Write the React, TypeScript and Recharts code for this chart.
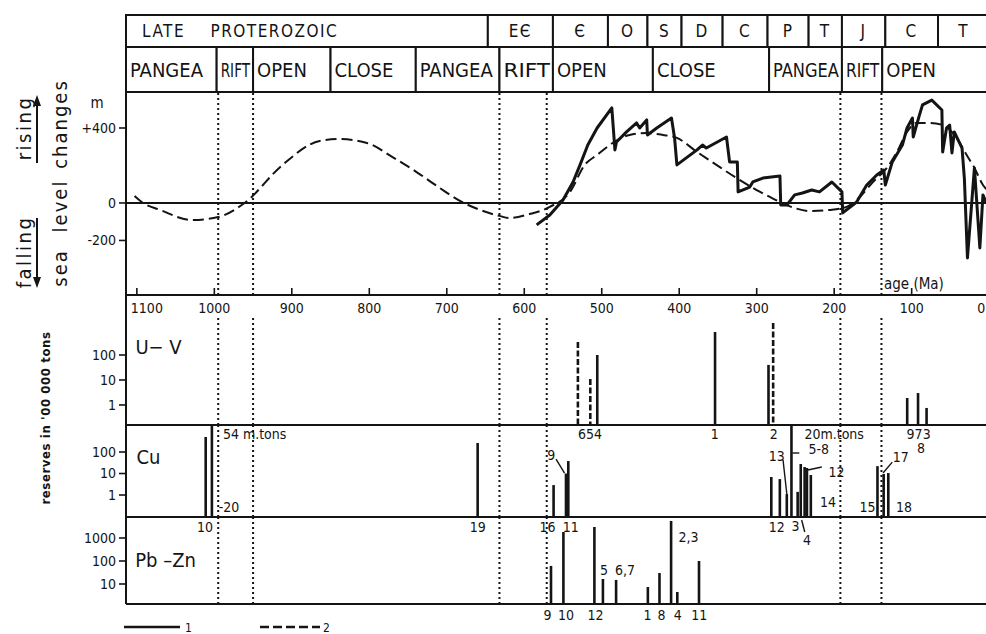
import React from 'react';
import { ComposedChart, Line, Bar, XAxis, YAxis, ReferenceLine, ReferenceArea, ReferenceDot } from 'recharts';

const FONT = "'DejaVu Sans Condensed', 'DejaVu Sans', sans-serif";
const INK = '#141414';

// shared age axis (Ma)
const ageDomain = [-14, 1114];
const ageTicks = [1100, 1000, 900, 800, 700, 600, 500, 400, 300, 200, 100, 0];
const boundaryAges = [995, 950, 632, 571, 192, 139];

// header rows
const periodNames = ['LATE    PROTEROZOIC', 'EЄ', 'Є', 'O', 'S', 'D', 'C', 'P', 'T', 'J', 'C', 'T'];
const periodBounds = [1114, 647, 563, 492, 441, 397, 344, 286, 233, 190, 134, 66, 0];
const phaseNames = ['PANGEA', 'RIFT', 'OPEN', 'CLOSE', 'PANGEA', 'RIFT', 'OPEN', 'CLOSE', 'PANGEA', 'RIFT', 'OPEN'];
const phaseBounds = [1114, 997, 950, 850, 740, 632, 563, 434, 284, 190, 138, -14];

// sea level curve 1 (solid)
const curve1Ages = [584, 567, 550, 537, 528, 518, 506, 487, 483, 481, 468, 455, 451, 442, 441, 429, 410, 406, 403, 377, 370, 365, 339, 335, 325, 324, 309, 305, 292, 270, 269, 261, 251, 241, 229, 219, 203, 190, 189, 171, 158, 145, 136, 134, 125, 112, 106, 99, 98, 90, 86, 74, 61, 60, 55, 51, 48, 45, 35, 32, 28, 21, 19, 12, 8, 4, 0];
const curve1Levels = [-117, -64, 16, 112, 203, 309, 400, 507, 283, 325, 379, 427, 400, 443, 363, 400, 453, 347, 203, 283, 309, 293, 352, 219, 219, 59, 85, 112, 133, 144, -11, -11, 43, 53, 69, 59, 112, 59, -53, 5, 96, 149, 176, 96, 219, 309, 400, 453, 352, 469, 523, 549, 496, 272, 400, 416, 267, 379, 293, 133, -293, 80, 187, -240, 43, 5, 40];

// sea level curve 2 (dashed)
const curve2Ages = [1103, 1092, 1070, 1029, 995, 961, 912, 864, 838, 803, 770, 739, 709, 683, 657, 632, 619, 593, 567, 541, 522, 506, 486, 464, 442, 421, 403, 377, 352, 326, 300, 283, 270, 251, 232, 206, 184, 167, 150, 132, 119, 106, 94, 77, 60, 42, 29, 19, 8, 0];
const curve2Levels = [37, 0, -37, -91, -75, 0, 203, 331, 341, 320, 245, 165, 80, 11, -37, -69, -80, -59, -21, 59, 203, 256, 320, 363, 373, 363, 347, 272, 203, 133, 69, 32, 5, -27, -43, -37, -21, 32, 112, 187, 272, 379, 427, 427, 416, 347, 256, 187, 96, 60];
const levelTicks = [400, 0, -200];

// U-V deposits
const uvAges = [531, 515, 506, 354, 285, 279, 106, 92, 81];
const uvReserves = [330, 11, 100, 830, 40, 1900, 1.9, 3, 0.76];
const uvSource = [2, 2, 1, 1, 1, 2, 1, 1, 1];

// Cu deposits
const cuAges = [1011, 1003, 660, 562, 546, 543, 281, 270, 261, 255, 247, 243, 238, 235, 230, 144, 136, 130];
const cuReserves = [500, 1800, 262, 2.9, 10, 38, 6.9, 5.5, 1.1, 1800, 1.4, 27.7, 20, 18, 8.5, 22, 9.5, 10.5];

// Pb-Zn deposits
const pbAges = [566, 550, 510, 499, 482, 441, 426, 411, 403, 375];
const pbReserves = [61, 1820, 3000, 16.5, 15, 7.4, 30, 5500, 4.5, 100];

// annotations
const cuNoteTexts = ['54 m.tons', '-20', '10', '19', '16', '11', '9', '654', '1', '2', '20m.tons', '973', '8', '13', '5-8', '12', '14', '12', '3', '4', '15', '17', '18'];
const cuNoteAges = [948, 981, 1012, 660, 570, 540, 565, 515, 354, 278, 200, 91, 88, 274, 220, 197, 208, 274, 250, 235, 157, 114, 110];
const cuNoteLevels = [690, 0.28, 0.032, 0.032, 0.032, 0.032, 72, 690, 690, 690, 690, 690, 153, 65, 138, 11.7, 0.47, 0.032, 0.036, 0.0081, 0.28, 58, 0.28];
const cuLeaderAges = [[559, 548], [266, 261], [254, 245], [234, 216], [242, 238], [137, 125]];
const cuLeaderLevels = [[47, 10.5], [42.5, 1.0], [90, 90], [14.5, 20], [0.069, 0.019], [10.6, 34]];

const pbNoteTexts = ['9', '10', '12', '1', '8', '4', '11', '5', '6,7', '2,3'];
const pbNoteAges = [570, 546, 508, 441, 423, 402, 374, 497, 470, 388];
const pbNoteLevels = [0.45, 0.45, 0.45, 0.45, 0.45, 0.45, 0.45, 40, 40, 1100];

const CellLabel = (props: any) => {
  const { viewBox, text, align, size, spacing, pad } = props;
  if (!viewBox) return null;
  const { x, y, width, height } = viewBox;
  const est = text.length * size * 0.62 + text.length * spacing;
  const room = width - pad - 3;
  const fit = align === 'start' && est > room;
  return (
    <text
      x={align === 'start' ? x + pad : x + width / 2}
      y={y + height / 2}
      dy="0.36em"
      textAnchor={align}
      fontSize={size}
      fontFamily={FONT}
      fill={INK}
      letterSpacing={spacing}
      style={{ whiteSpace: 'pre' }}
      textLength={fit ? room : undefined}
      lengthAdjust={fit ? 'spacingAndGlyphs' : undefined}
    >
      {text}
    </text>
  );
};

const NoteText = (props: any) => {
  const { viewBox, text, size } = props;
  if (!viewBox) return null;
  return (
    <text
      x={viewBox.x + viewBox.width / 2}
      y={viewBox.y + viewBox.height / 2}
      dy="0.36em"
      textAnchor="middle"
      fontSize={size || 14}
      fontFamily={FONT}
      fill={INK}
    >
      {text}
    </text>
  );
};

const Stick = (props: any) => {
  const { x, y, width, height, payload } = props;
  if (x == null || y == null) return null;
  const cx = x + width / 2;
  return (
    <line
      x1={cx}
      x2={cx}
      y1={y}
      y2={y + height}
      stroke={INK}
      strokeWidth={2.6}
      strokeDasharray={payload && payload.source === 2 ? '6 2.5' : undefined}
    />
  );
};

const AgeTick = (props: any) => {
  const { x, y, payload } = props;
  const first = payload.value === ageTicks[0];
  const last = payload.value === ageTicks[ageTicks.length - 1];
  const anchor = first ? 'start' : last ? 'end' : 'middle';
  const tx = first ? x - 6 : last ? x - 4 : x;
  return (
    <g>
      <line x1={x} x2={x} y1={y} y2={y - 7} stroke={INK} strokeWidth={1.6} />
      <text x={tx} y={y + 18} textAnchor={anchor} fontSize={14} fontFamily={FONT} fill={INK}>
        {payload.value}
      </text>
    </g>
  );
};

const axisStyle = {
  axisLine: { stroke: INK, strokeWidth: 2 },
  tickLine: { stroke: INK, strokeWidth: 1.6 },
  tickSize: 7,
  tickMargin: 3,
  tick: { fill: INK, fontSize: 14, fontFamily: FONT },
};

function StickPanel(props: any) {
  const { top, plotHeight, bottomRoom, domain, ticks, rows, name, nameAge, nameLevel, notes, leaders, dotFrom } = props;
  return (
    <div style={{ position: 'absolute', left: 0, top: top - 10 }}>
      <ComposedChart width={1000} height={10 + plotHeight + bottomRoom} data={rows} margin={{ top: 10, right: 0, bottom: bottomRoom, left: 66 }}>
        <XAxis type="number" dataKey="age" domain={ageDomain} reversed hide allowDataOverflow />
        <YAxis type="number" scale="log" domain={domain} ticks={ticks} interval={0} allowDataOverflow width={60} {...axisStyle} />
        <ReferenceLine y={domain[0]} stroke={INK} strokeWidth={2} />
        {boundaryAges.map((a) => (
          <ReferenceLine
            key={a}
            segment={[{ x: a, y: dotFrom ?? domain[1] }, { x: a, y: domain[0] }]}
            stroke={INK}
            strokeWidth={2}
            strokeDasharray="2 3"
          />
        ))}
        <Bar dataKey="reserve" barSize={3} shape={Stick} isAnimationActive={false} />
        {(notes || []).map((n: any, i: number) => (
          <ReferenceDot key={`n${i}`} x={n.age} y={n.level} r={0} fill="none" stroke="none" ifOverflow="visible" label={<NoteText text={n.text} />} />
        ))}
        {(leaders || []).map((l: any, i: number) => (
          <ReferenceLine key={`l${i}`} segment={[{ x: l.ages[0], y: l.levels[0] }, { x: l.ages[1], y: l.levels[1] }]} stroke={INK} strokeWidth={1.4} ifOverflow="visible" />
        ))}
        <ReferenceDot x={nameAge} y={nameLevel} r={0} fill="none" stroke="none" ifOverflow="visible" label={<NoteText text={name} size={20} />} />
      </ComposedChart>
    </div>
  );
}

export default function App() {
  const curve1 = curve1Ages.map((age, i) => ({ age, level: curve1Levels[i] }));
  const curve2 = curve2Ages.map((age, i) => ({ age, level: curve2Levels[i] }));
  const uvRows = uvAges.map((age, i) => ({ age, reserve: uvReserves[i], source: uvSource[i] }));
  const cuRows = cuAges.map((age, i) => ({ age, reserve: cuReserves[i], source: 1 }));
  const pbRows = pbAges.map((age, i) => ({ age, reserve: pbReserves[i], source: 1 }));
  const cuNotes = cuNoteTexts.map((text, i) => ({ text, age: cuNoteAges[i], level: cuNoteLevels[i] }));
  const cuLeaders = cuLeaderAges.map((ages, i) => ({ ages, levels: cuLeaderLevels[i] }));
  const pbNotes = pbNoteTexts.map((text, i) => ({ text, age: pbNoteAges[i], level: pbNoteLevels[i] }));

  return (
    <div style={{ position: 'absolute', left: 0, top: 0, width: 986, height: 634, overflow: 'hidden', background: '#fff' }}>
      {/* header: periods and plate phases */}
      <div style={{ position: 'absolute', left: 0, top: 0 }}>
        <ComposedChart width={1000} height={100} margin={{ top: 15, right: 0, bottom: 8, left: 126 }}>
          <XAxis type="number" dataKey="age" domain={ageDomain} reversed hide allowDataOverflow />
          <YAxis type="number" domain={[0, 77]} hide allowDataOverflow />
          {periodNames.map((name, i) => (
            <ReferenceArea
              key={`p${i}`}
              x1={periodBounds[i]}
              x2={periodBounds[i + 1]}
              y1={45}
              y2={77}
              fill="#fff"
              fillOpacity={1}
              stroke={INK}
              strokeWidth={2}
              ifOverflow="visible"
              label={<CellLabel text={name} align={i === 0 ? 'start' : 'middle'} size={17} spacing={1.5} pad={16} />}
            />
          ))}
          {phaseNames.map((name, i) => (
            <ReferenceArea
              key={`f${i}`}
              x1={phaseBounds[i]}
              x2={phaseBounds[i + 1]}
              y1={0}
              y2={45}
              fill="#fff"
              fillOpacity={1}
              stroke={INK}
              strokeWidth={2}
              ifOverflow="visible"
              label={<CellLabel text={name} align="start" size={20} spacing={0} pad={4} />}
            />
          ))}
        </ComposedChart>
      </div>

      {/* sea level changes */}
      <div style={{ position: 'absolute', left: 0, top: 80 }}>
        <ComposedChart width={1000} height={237} margin={{ top: 12, right: 0, bottom: 0, left: 66 }}>
          <XAxis
            type="number"
            dataKey="age"
            domain={ageDomain}
            reversed
            allowDataOverflow
            ticks={ageTicks}
            interval={0}
            height={22}
            axisLine={{ stroke: INK, strokeWidth: 2 }}
            tickLine={false}
            tickSize={0}
            tickMargin={0}
            tick={<AgeTick />}
          />
          <YAxis
            type="number"
            domain={[-491, 592]}
            ticks={levelTicks}
            interval={0}
            allowDataOverflow
            width={60}
            tickFormatter={(v: number) => (v > 0 ? `+${v}` : `${v}`)}
            {...axisStyle}
          />
          <ReferenceLine y={0} stroke={INK} strokeWidth={2} />
          {boundaryAges.map((a) => (
            <ReferenceLine key={a} x={a} stroke={INK} strokeWidth={2} strokeDasharray="2 3" />
          ))}
          <Line data={curve2} dataKey="level" type="monotone" stroke={INK} strokeWidth={2} strokeDasharray="11 5" dot={false} isAnimationActive={false} />
          <Line data={curve1} dataKey="level" type="linear" stroke={INK} strokeWidth={3} strokeLinejoin="round" dot={false} isAnimationActive={false} />
        </ComposedChart>
      </div>

      <StickPanel
        top={295}
        plotHeight={130}
        bottomRoom={10}
        domain={[0.158, 25119]}
        ticks={[1, 10, 100]}
        rows={uvRows}
        name="U− V"
        nameAge={1072}
        nameLevel={209}
        dotFrom={3000}
      />
      <StickPanel
        top={425}
        plotHeight={92}
        bottomRoom={30}
        domain={[0.095, 1803]}
        ticks={[1, 10, 100]}
        rows={cuRows}
        name="Cu"
        nameAge={1085}
        nameLevel={58}
        notes={cuNotes}
        leaders={cuLeaders}
      />
      <StickPanel
        top={517}
        plotHeight={87}
        bottomRoom={25}
        domain={[1.35, 8170]}
        ticks={[10, 100, 1000]}
        rows={pbRows}
        name="Pb –Zn"
        nameAge={1063}
        nameLevel={110}
        notes={pbNotes}
      />

      {/* side titles, units and legend */}
      <svg width={986} height={634} style={{ position: 'absolute', left: 0, top: 0, pointerEvents: 'none' }} fontFamily={FONT} fill={INK}>
        <text transform="translate(31,128) rotate(-90)" textAnchor="middle" fontSize={20} letterSpacing={2.5}>rising</text>
        <line x1={37} y1={163} x2={37} y2={104} stroke={INK} strokeWidth={2} />
        <path d="M37,95 L33,106 L41,106 Z" fill={INK} />
        <text transform="translate(31,252) rotate(-90)" textAnchor="middle" fontSize={20} letterSpacing={2.5}>falling</text>
        <line x1={37} y1={218} x2={37} y2={278} stroke={INK} strokeWidth={2} />
        <path d="M37,288 L33,277 L41,277 Z" fill={INK} />
        <text transform="translate(67,268) rotate(-90)" textAnchor="middle" fontSize={20} letterSpacing={2}>sea</text>
        <text transform="translate(67,206) rotate(-90)" textAnchor="middle" fontSize={20} letterSpacing={2}>level</text>
        <text transform="translate(67,124) rotate(-90)" textAnchor="middle" fontSize={20} letterSpacing={2}>changes</text>
        <text x={97} y={108} textAnchor="middle" fontSize={15}>m</text>
        <text transform="translate(50,418) rotate(-90)" textAnchor="middle" fontSize={13} fontWeight="bold" letterSpacing={0.6}>reserves in '00 000 tons</text>
        <text x={884} y={289} fontSize={15}>age (Ma)</text>
        <line x1={124} y1={627} x2={180} y2={627} stroke={INK} strokeWidth={2.5} />
        <text x={185} y={632} fontSize={12}>1</text>
        <line x1={260} y1={627} x2={320} y2={627} stroke={INK} strokeWidth={2.5} strokeDasharray="9 4" />
        <text x={323} y={632} fontSize={12}>2</text>
      </svg>
    </div>
  );
}
